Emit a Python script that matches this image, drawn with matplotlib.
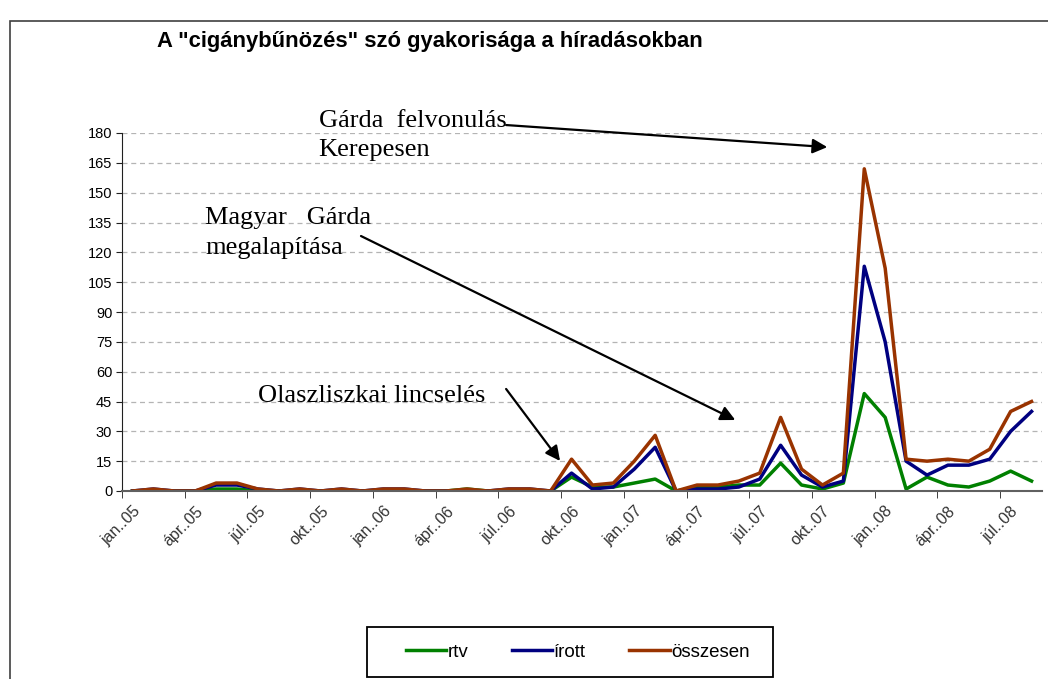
import numpy as np
import matplotlib.pyplot as plt
from matplotlib.patches import Rectangle

# monthly counts, jan.05 .. aug.08 (44 months)
rtv = [0, 0, 0, 0, 1, 1, 0, 0, 0, 0, 0, 0, 0, 0, 0, 0, 1, 0, 0, 0, 0,
       7, 2, 2, 4, 6, 0, 2, 2, 3, 3, 14, 3, 1, 4, 49, 37, 1, 7, 3, 2, 5, 10, 5]
irott = [0, 1, 0, 0, 3, 3, 1, 0, 1, 0, 1, 0, 1, 1, 0, 0, 0, 0, 1, 1, 0,
         9, 1, 2, 11, 22, 0, 1, 1, 2, 6, 23, 8, 2, 5, 113, 75, 15, 8, 13, 13, 16, 30, 40]
osszesen = [0, 1, 0, 0, 4, 4, 1, 0, 1, 0, 1, 0, 1, 1, 0, 0, 1, 0, 1, 1, 0,
            16, 3, 4, 15, 28, 0, 3, 3, 5, 9, 37, 11, 3, 9, 162, 112, 16, 15, 16, 15, 21, 40, 45]

tick_labels = ["jan..05", "ápr..05", "júl..05", "okt..05",
               "jan..06", "ápr..06", "júl..06", "okt..06",
               "jan..07", "ápr..07", "júl..07", "okt..07",
               "jan..08", "ápr..08", "júl..08"]

x = np.arange(len(osszesen))

fig = plt.figure(figsize=(10.48, 6.79), dpi=100)
W, H = 1048, 679
ax = fig.add_axes([122 / W, 1 - 491 / H, 920 / W, 358 / H])

# outer chart frame (runs off the right and bottom edge)
fig.patches.append(Rectangle((10 / W, -0.2), 1.2, 1.2 - 21 / H, transform=fig.transFigure,
                             fill=False, edgecolor="#404040", lw=1.2))

ax.plot(x, rtv, color="#008000", lw=2.5, label="rtv")
ax.plot(x, irott, color="#000080", lw=2.5, label="írott")
ax.plot(x, osszesen, color="#993300", lw=2.5, label="összesen")

ax.set_xlim(-0.5, len(x) - 0.5)
ax.set_ylim(0, 180)
ax.set_yticks(range(0, 181, 15))
ax.yaxis.grid(True, ls=(0, (4, 3)), color="#b4b4b4", lw=0.9)
ax.set_axisbelow(True)
for s in ["top", "right"]:
    ax.spines[s].set_visible(False)
ax.spines["left"].set_color("#202020")
ax.spines["bottom"].set_color("#606060")
ax.spines["bottom"].set_linewidth(1.5)

ax.set_xticks(x[::3])
ax.set_xticklabels(tick_labels, rotation=45, ha="right", rotation_mode="anchor",
                   fontsize=11.5, family="Liberation Sans", color="#333333")
ax.set_xticks(np.arange(-0.5, len(x) - 1, 3), minor=True)
ax.tick_params(axis="x", which="major", length=0, pad=9)
ax.tick_params(axis="x", which="minor", length=5, direction="out", color="#202020")
ax.tick_params(axis="y", length=4, direction="out", color="#202020", pad=3)
for t in ax.get_yticklabels():
    t.set_family("Liberation Sans")
    t.set_fontsize(10.5)

fig.text(157 / W, 1 - 41 / H, 'A "cigánybűnözés" szó gyakorisága a híradásokban',
         fontsize=15.8, fontweight="bold", family="Liberation Sans", va="center")

serif = dict(family="Liberation Serif", fontsize=19, ha="left", va="center")
ax.text(8.9, 186, "Gárda  felvonulás", **serif, clip_on=False)
ax.text(8.9, 171.4, "Kerepesen", **serif, clip_on=False)
ax.text(3.47, 137.3, "Magyar   Gárda", **serif)
ax.text(3.47, 122.2, "megalapítása", **serif)
ax.text(6.0, 47.8, "Olaszliszkai lincselés", **serif)

arrow = dict(arrowstyle="-|>", color="black", lw=1.6, mutation_scale=22, shrinkA=0, shrinkB=0)
ax.annotate("", xy=(33.23, 172.9), xytext=(17.87, 184.0), arrowprops=arrow, annotation_clip=False)
ax.annotate("", xy=(28.83, 35.7), xytext=(10.93, 128.2), arrowprops=arrow)
ax.annotate("", xy=(20.45, 15.1), xytext=(17.87, 51.3), arrowprops=arrow)

# legend entries without frame, box drawn separately (Excel style padding)
leg = fig.legend(loc="center left", bbox_to_anchor=(406 / W, 1 - 652 / H), ncol=3,
                 frameon=False, prop={"family": "Liberation Sans", "size": 13.5},
                 handlelength=2.15, handletextpad=0.1, columnspacing=2.3,
                 borderpad=0, borderaxespad=0)
fig.patches.append(Rectangle((367 / W, 1 - 677 / H), 406 / W, 50 / H, transform=fig.transFigure,
                             fill=False, edgecolor="black", lw=1.3))

fig.savefig("out.png", dpi=100)
